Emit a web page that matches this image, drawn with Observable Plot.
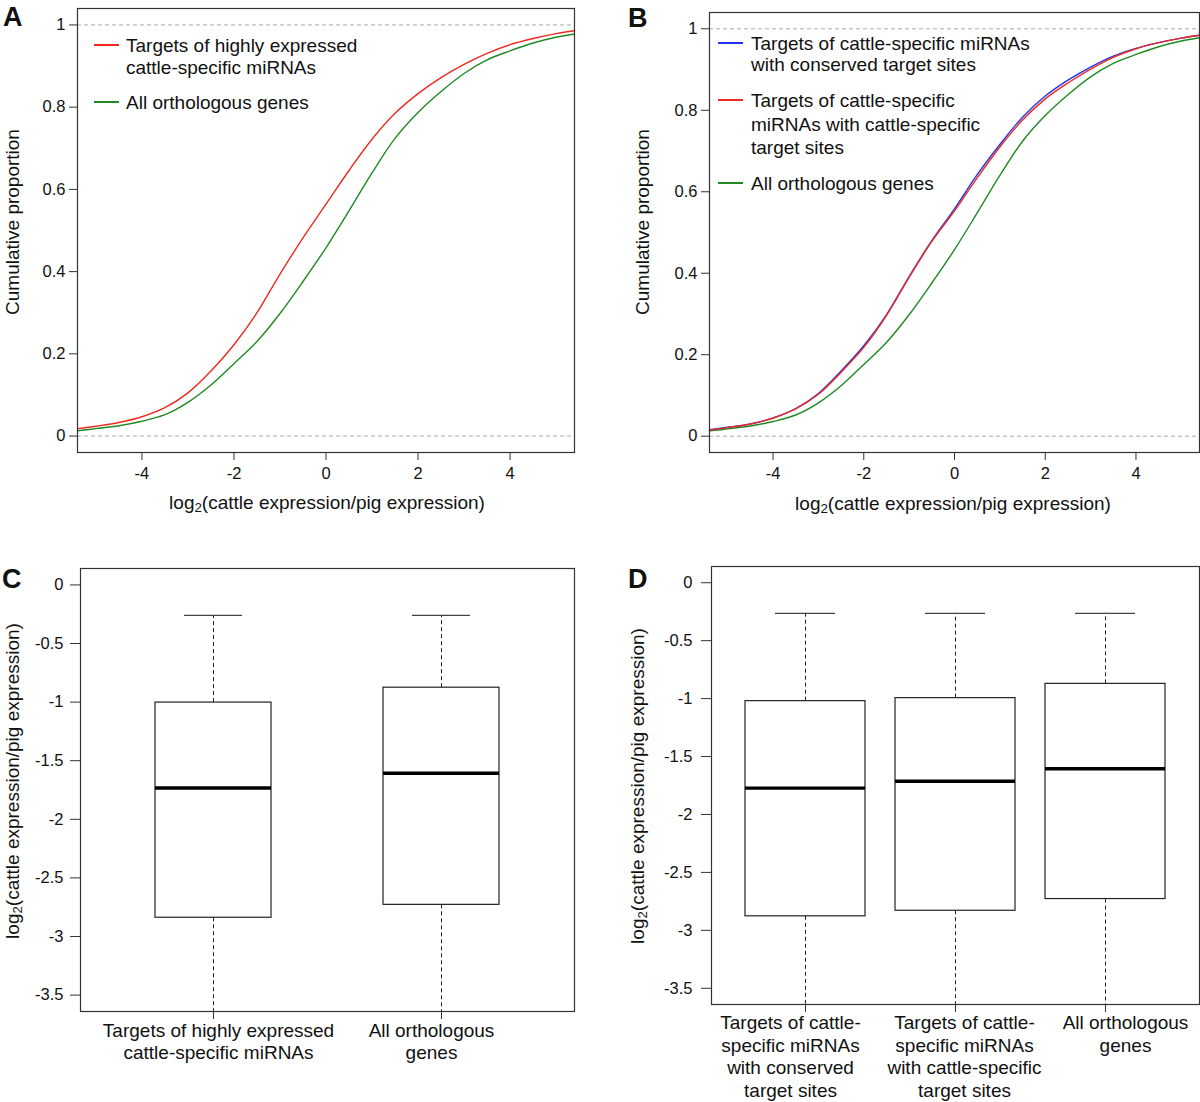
<!DOCTYPE html>
<html>
<head>
<meta charset="utf-8">
<script src="https://cdn.jsdelivr.net/npm/d3@7"></script>
<script src="https://cdn.jsdelivr.net/npm/@observablehq/plot@0.6"></script>
<style>
  html, body { margin: 0; padding: 0; background: #fff; }
  #root { position: relative; width: 1200px; height: 1102px; overflow: hidden; background: #fff;
          font-family: "Liberation Sans", Arial, Helvetica, sans-serif; color: #111; }
  .panel { position: absolute; }
  .txt { position: absolute; white-space: nowrap; line-height: 1; }
  .sw { position: absolute; height: 2px; }
  sub { font-size: 70%; vertical-align: -0.25em; line-height: 0; }
</style>
</head>
<body>
<div id="root"></div>
<script>
// ---------------- DATA ----------------
// Cumulative distribution curves (x = log2 cattle/pig expression)
const cdfX = [-5.4, -5, -4.5, -4, -3.5, -3, -2.5, -2, -1.5, -1, -0.5, 0, 0.5, 1, 1.5, 2, 2.5, 3, 3.5, 4, 4.5, 5, 5.4];
const highlyExpressedTargets = [0.018, 0.024, 0.033, 0.047, 0.069, 0.105, 0.158, 0.222, 0.300, 0.394, 0.482, 0.564, 0.646, 0.722, 0.785, 0.833, 0.872, 0.904, 0.931, 0.952, 0.967, 0.979, 0.986];
const allOrthologous = [0.013, 0.018, 0.025, 0.036, 0.052, 0.082, 0.124, 0.176, 0.230, 0.298, 0.376, 0.458, 0.548, 0.640, 0.724, 0.787, 0.838, 0.882, 0.915, 0.937, 0.956, 0.970, 0.978];
const conservedSiteTargets = [0.016, 0.022, 0.030, 0.045, 0.068, 0.105, 0.160, 0.222, 0.298, 0.392, 0.480, 0.558, 0.642, 0.716, 0.783, 0.835, 0.874, 0.906, 0.933, 0.952, 0.966, 0.977, 0.984];
const cattleSiteTargets = [0.015, 0.021, 0.030, 0.044, 0.067, 0.103, 0.157, 0.218, 0.296, 0.390, 0.478, 0.553, 0.634, 0.710, 0.776, 0.828, 0.867, 0.901, 0.930, 0.951, 0.966, 0.977, 0.984];

const cdfYTicks = [0, 0.2, 0.4, 0.6, 0.8, 1];
const cdfXTicks = [-4, -2, 0, 2, 4];
const boxYTicks = [0, -0.5, -1, -1.5, -2, -2.5, -3, -3.5];

// Panel C boxplots
const catsC = ["Targets of highly expressed\ncattle-specific miRNAs", "All orthologous\ngenes"];
const q1C = [-2.84, -2.73];
const medC = [-1.733, -1.607];
const q3C = [-1.004, -0.877];
const upperC = [-0.26, -0.26];
const lowerC = [-4.5, -4.5];

// Panel D boxplots
const catsD = ["Targets of cattle-\nspecific miRNAs\nwith conserved\ntarget sites",
               "Targets of cattle-\nspecific miRNAs\nwith cattle-specific\ntarget sites",
               "All orthologous\ngenes"];
const q1D = [-2.879, -2.831, -2.73];
const medD = [-1.773, -1.713, -1.605];
const q3D = [-1.022, -0.996, -0.873];
const upperD = [-0.264, -0.264, -0.264];
const lowerD = [-4.5, -4.5, -4.5];

// ---------------- STYLE ----------------
const RED = "#ee2a1e", GREEN = "#1e8a22", BLUE = "#2233ee";
const FONT = "'Liberation Sans', Arial, Helvetica, sans-serif";
const root = document.getElementById("root");

function place(el, left, top) {
  el.style.left = left + "px"; el.style.top = top + "px"; root.appendChild(el); return el;
}
function text(html, cx, cy, {size = 19, weight = "normal", rotate = false, anchor = "middle"} = {}) {
  const d = document.createElement("div");
  d.className = "txt";
  d.innerHTML = html;
  d.style.fontSize = size + "px";
  d.style.fontWeight = weight;
  const tx = anchor === "middle" ? "-50%" : "0";
  d.style.transform = `translate(${tx},-50%)`;
  if (rotate) { d.style.transformOrigin = "0 0"; d.style.transform = "rotate(-90deg) translate(-50%,-50%)"; }
  return place(d, cx, cy);
}
function swatch(color, x, y, w = 25) {
  const d = document.createElement("div");
  d.className = "sw"; d.style.background = color; d.style.width = w + "px";
  return place(d, x, y - 1);
}
function addPanel(svg, left, top) {
  const d = document.createElement("div");
  d.className = "panel"; d.appendChild(svg);
  return place(d, left, top);
}
const fmt = d => String(+d.toFixed(2));

function cdfPanel(series, {marginLeft, marginRight, marginTop, marginBottom, height}) {
  const marks = [
    Plot.ruleY([0, 1], {stroke: "#aaa", strokeDasharray: "4,3", strokeWidth: 1}),
    ...series.map(s => Plot.line(cdfX.map((x, i) => ({x, y: s.values[i]})),
      {x: "x", y: "y", stroke: s.color, strokeWidth: 1.4, curve: "catmull-rom"})),
    Plot.axisX({ticks: cdfXTicks, tickSize: 8, tickPadding: 7, tickFormat: fmt, label: null, fontSize: 16.5, stroke: "#333"}),
    Plot.axisY({ticks: cdfYTicks, tickSize: 8, tickPadding: 4, tickFormat: fmt, label: null, fontSize: 16.5, stroke: "#333"}),
    Plot.frame({stroke: "#333", strokeWidth: 1.2})
  ];
  return Plot.plot({
    width: 600, height, marginLeft, marginRight, marginTop, marginBottom,
    style: {fontFamily: FONT, fontSize: "16.5px", color: "#111", background: "white"},
    x: {domain: [-5.4, 5.4]},
    y: {domain: [-0.04, 1.04]},
    marks
  });
}

function boxPanel(cats, q1, med, q3, upper, lower, {marginLeft, marginRight, marginTop, marginBottom, height, paddingInner, paddingOuter, capInset, labelDx, labelDy, lineHeight, yTickPadding}) {
  const data = cats.map((c, i) => ({c, q1: q1[i], med: med[i], q3: q3[i], upper: upper[i], lower: lower[i]}));
  const labelMarks = cats.map((c, i) => Plot.text([c], {
    x: d => d, text: d => d, frameAnchor: "bottom", lineAnchor: "top",
    dy: labelDy, dx: labelDx[i], fontSize: 19, lineHeight, fill: "#111"
  }));
  return Plot.plot({
    width: 600, height, marginLeft, marginRight, marginTop, marginBottom,
    style: {fontFamily: FONT, fontSize: "16.5px", color: "#111", background: "white"},
    x: {type: "band", domain: cats, paddingInner, paddingOuter, align: 0.5},
    y: {domain: [-3.64, 0.14]},
    marks: [
      Plot.ruleX(data, {x: "c", y1: "q3", y2: "upper", stroke: "#222", strokeDasharray: "4,3", strokeWidth: 1}),
      Plot.ruleX(data, {x: "c", y1: "q1", y2: "lower", stroke: "#222", strokeDasharray: "4,3", strokeWidth: 1, clip: true}),
      Plot.tickY(data, {x: "c", y: "upper", stroke: "#444", strokeWidth: 1.3, insetLeft: capInset, insetRight: capInset}),
      Plot.barY(data, {x: "c", y1: "q1", y2: "q3", fill: "white", stroke: "#222", strokeWidth: 1.2}),
      Plot.tickY(data, {x: "c", y: "med", stroke: "#000", strokeWidth: 3.4}),
      Plot.axisX({tickSize: 8, tickFormat: () => "", label: null, stroke: "#333"}),
      Plot.axisY({ticks: boxYTicks, tickSize: 10, tickPadding: yTickPadding, tickFormat: fmt, label: null, fontSize: 16.5, stroke: "#333"}),
      ...labelMarks,
      Plot.frame({stroke: "#333", strokeWidth: 1.2})
    ]
  });
}

// ---------------- PANEL A ----------------
addPanel(cdfPanel([
  {values: allOrthologous, color: GREEN},
  {values: highlyExpressedTargets, color: RED}
], {marginLeft: 77, marginRight: 26, marginTop: 8, marginBottom: 68, height: 520}), 0, 0);

// ---------------- PANEL B ----------------
addPanel(cdfPanel([
  {values: allOrthologous, color: GREEN},
  {values: conservedSiteTargets, color: BLUE},
  {values: cattleSiteTargets, color: RED}
], {marginLeft: 109, marginRight: 1, marginTop: 12, marginBottom: 68, height: 520}), 600, 0);

// ---------------- PANEL C ----------------
addPanel(boxPanel(catsC, q1C, medC, q3C, upperC, lowerC, {
  marginLeft: 80, marginRight: 26, marginTop: 8, marginBottom: 89, height: 540,
  paddingInner: 0.49, paddingOuter: 0.324, capInset: 29,
  labelDx: [5, -10], labelDy: 10, lineHeight: 1.14, yTickPadding: 7
}), 0, 560);

// ---------------- PANEL D ----------------
addPanel(boxPanel(catsD, q1D, medD, q3D, upperD, lowerD, {
  marginLeft: 111, marginRight: 1, marginTop: 6, marginBottom: 98, height: 542,
  paddingInner: 0.2, paddingOuter: 0.22, capInset: 30,
  labelDx: [-15, 9, 20], labelDy: 8.5, lineHeight: 1.19, yTickPadding: 9
}), 600, 560);

// ---------------- TEXT OVERLAYS ----------------
const xLab = "log<sub>2</sub>(cattle expression/pig expression)";
text("A", 3, 17, {size: 27, weight: "bold", anchor: "start"});
text("B", 628, 18, {size: 27, weight: "bold", anchor: "start"});
text("C", 2, 579, {size: 27, weight: "bold", anchor: "start"});
text("D", 628, 579, {size: 27, weight: "bold", anchor: "start"});

text(xLab, 327, 502);
text(xLab, 953, 503);
text("Cumulative proportion", 12, 222, {rotate: true});
text("Cumulative proportion", 642, 222, {rotate: true});
text(xLab, 12, 781, {rotate: true});
text(xLab, 637, 786, {rotate: true});

// Legend A
swatch(RED, 94, 45);
text("Targets of highly expressed", 126, 45, {anchor: "start"});
text("cattle-specific miRNAs", 126, 67, {anchor: "start"});
swatch(GREEN, 94, 102);
text("All orthologous genes", 126, 102, {anchor: "start"});

// Legend B
swatch(BLUE, 718, 43);
text("Targets of cattle-specific miRNAs", 751, 43, {anchor: "start"});
text("with conserved target sites", 751, 64, {anchor: "start"});
swatch(RED, 718, 100);
text("Targets of cattle-specific", 751, 100, {anchor: "start"});
text("miRNAs with cattle-specific", 751, 124, {anchor: "start"});
text("target sites", 751, 147, {anchor: "start"});
swatch(GREEN, 718, 183);
text("All orthologous genes", 751, 183, {anchor: "start"});
</script>
</body>
</html>
